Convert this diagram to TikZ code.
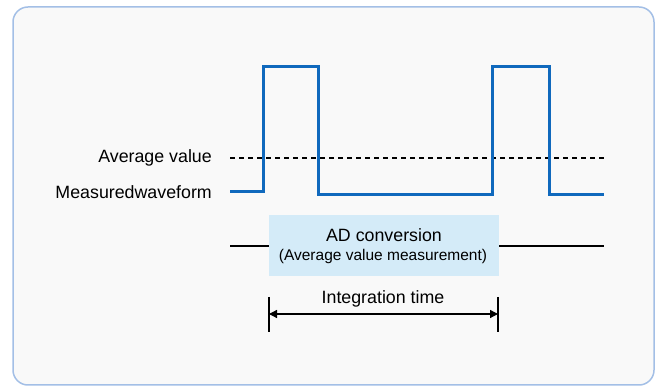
\documentclass[tikz,border=0pt]{standalone}
\usepackage{fontspec}
\setmainfont{Liberation Sans}
\usetikzlibrary{arrows.meta}
\definecolor{framec}{HTML}{A3BFE6}
\definecolor{bgc}{HTML}{F9F9F9}
\definecolor{wavec}{HTML}{1069BD}
\definecolor{boxc}{HTML}{D4EBF8}
\tikzset{
  lbl/.style={font=\fontsize{17.8}{20}\selectfont, inner sep=0pt},
  wave/.style={draw=wavec, line width=3pt, line join=miter},
  thin/.style={draw=black, line width=1.3pt},
  avg/.style={draw=black, line width=1.4pt, dash pattern=on 5pt off 4pt},
}
\begin{document}
\begin{tikzpicture}[x=1pt,y=-1pt]
\useasboundingbox (0,0) rectangle (659,387);
\draw[framec, fill=bgc, line width=1.5pt, rounded corners=15pt] (13,7) rectangle (654,385);
% labels
\node[lbl, anchor=east] (avglbl) at (212,158) {Average value};
\node[lbl, anchor=east] (measlbl) at (212,192) {Measuredwaveform};
% waveform points
\coordinate (w0) at (230,192);
\coordinate (w1) at (263,192);
\coordinate (w2) at (263,67);
\coordinate (w3) at (318,67);
\coordinate (w4) at (318,195);
\coordinate (w5) at (492,195);
\coordinate (w6) at (492,67);
\coordinate (w7) at (549,67);
\coordinate (w8) at (549,195);
\coordinate (w9) at (604,195);
\coordinate (a0) at (230,158);
\coordinate (a1) at (604,158);
\draw[avg] (a0) -- (a1);
\draw[wave] (w0) -- (w1) -- (w2) -- (w3) -- (w4) -- (w5) -- (w6) -- (w7) -- (w8) -- (w9);
% AD conversion box
\node[fill=boxc, minimum width=230pt, minimum height=61pt, inner sep=0pt, anchor=north west] (ad) at (269,215) {};
\node[font=\fontsize{17.8}{20}\selectfont, inner sep=0pt] (adt1) at (384,235) {AD conversion};
\node[font=\fontsize{15.5}{18}\selectfont, inner sep=0pt] (adt2) at (383,256) {(Average value measurement)};
\coordinate (l0) at (230,246);
\coordinate (l1) at (604,246);
\draw[thin] (l0) -- (ad.west |- l0);
\draw[thin] (ad.east |- l1) -- (l1);
% integration time
\coordinate (t0a) at (269,297);
\coordinate (t0b) at (269,332);
\coordinate (t1a) at (498,297);
\coordinate (t1b) at (498,332);
\draw[thin] (t0a) -- (t0b);
\draw[thin] (t1a) -- (t1b);
\coordinate (ia) at (269,314);
\coordinate (ib) at (498,314);
\draw[thin, {Triangle[length=8pt,width=8pt]}-{Triangle[length=8pt,width=8pt]}] (ia) -- (ib);
\node[lbl] (itlbl) at (383,299) {Integration time};
\end{tikzpicture}
\end{document}
